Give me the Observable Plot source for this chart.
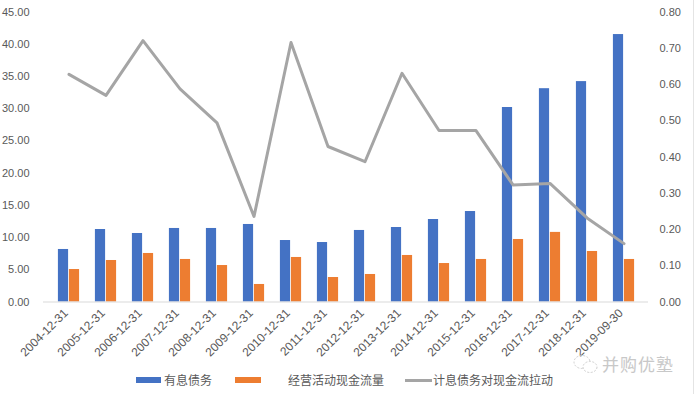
<!DOCTYPE html>
<html>
<head>
<meta charset="utf-8">
<script src="https://cdn.jsdelivr.net/npm/d3@7"></script>
<script src="https://cdn.jsdelivr.net/npm/@observablehq/plot@0.6"></script>
<style>
  html, body { margin: 0; padding: 0; background: #fff; }
  #wrap { position: relative; width: 694px; height: 394px; overflow: hidden;
          font-family: "Noto Sans CJK SC", "Liberation Sans", sans-serif; }
  .legend { position: absolute; top: 371px; left: 0; height: 18px; font-size: 12px; color: #595959; }
  .item { position: absolute; top: 0; white-space: nowrap; line-height: 18px; }
  .sw { position: absolute; }
  .wm { position: absolute; left: 602px; top: 353px; font-size: 17px; color: #C8C8C8; letter-spacing: 1px; line-height: 22px; }
  .icon { position: absolute; left: 572px; top: 352px; }
  .border { position: absolute; left: 693px; top: 0; width: 1px; height: 394px; background: #E4E4E4; }
</style>
</head>
<body>
<div id="wrap"></div>
<script>
const dates = ["2004-12-31","2005-12-31","2006-12-31","2007-12-31","2008-12-31","2009-12-31","2010-12-31","2011-12-31",
               "2012-12-31","2013-12-31","2014-12-31","2015-12-31","2016-12-31","2017-12-31","2018-12-31","2019-09-30"];
const debt = [8.15, 11.25, 10.63, 11.41, 11.41, 12.03, 9.54, 9.23, 11.10, 11.56, 12.80, 14.04, 30.18, 33.10, 34.20, 41.50];
const cashflow = [5.04, 6.44, 7.53, 6.60, 5.66, 2.72, 6.91, 3.80, 4.27, 7.22, 5.97, 6.60, 9.70, 10.80, 7.84, 6.60];
const ratio = [0.628, 0.570, 0.721, 0.588, 0.494, 0.236, 0.716, 0.429, 0.387, 0.631, 0.473, 0.473, 0.323, 0.327, 0.232, 0.161];
const leftTicks = [0, 5, 10, 15, 20, 25, 30, 35, 40, 45];
const rightTicks = [0, 0.1, 0.2, 0.3, 0.4, 0.5, 0.6, 0.7, 0.8];
const seriesNames = ["有息债务", "经营活动现金流量", "计息债务对现金流拉动"];
const colors = ["#4472C4", "#ED7D31", "#A5A5A5"];

const rows = dates.map((d, i) => ({date: d, debt: debt[i], cash: cashflow[i], ratio: ratio[i]}));
const k = 45 / 0.8; // right axis mapped onto left scale

const W = 694, H = 394, mL = 43, mR = 46;
const bw = (W - mL - mR) / dates.length;
const barW = 11;

const chart = Plot.plot({
  width: W, height: H,
  marginTop: 11.5, marginBottom: 92.5, marginLeft: mL, marginRight: mR,
  style: {fontFamily: "'Liberation Sans', 'Noto Sans CJK SC', sans-serif", fontSize: "11px", color: "#595959", background: "transparent"},
  x: {domain: dates, padding: 0},
  y: {domain: [0, 45]},
  marks: [
    Plot.axisY({ticks: leftTicks, tickFormat: d => d.toFixed(2), tickSize: 0, tickPadding: 14, label: null}),
    Plot.axisY({anchor: "right", ticks: rightTicks.map(v => v * k), tickFormat: d => (d / k).toFixed(2), tickSize: 0, tickPadding: 11, label: null}),
    Plot.axisX({tickRotate: -45, tickSize: 0, tickPadding: 9, dx: -3, label: null, fontSize: 12}),
    Plot.barY(rows, {x: "date", y: "debt", fill: colors[0], insetLeft: bw / 2 - barW, insetRight: bw / 2}),
    Plot.barY(rows, {x: "date", y: "cash", fill: colors[1], insetLeft: bw / 2, insetRight: bw / 2 - barW}),
    Plot.ruleY([0], {stroke: "#D9D9D9", strokeWidth: 1}),
    Plot.lineY(rows, {x: "date", y: d => d.ratio * k, stroke: colors[2], strokeWidth: 3, strokeLinejoin: "round"})
  ]
});

const wrap = document.getElementById("wrap");
chart.style.position = "absolute";
chart.style.left = "0";
chart.style.top = "0";
wrap.appendChild(chart);

const legend = document.createElement("div");
legend.className = "legend";
const items = [
  {sw: {left: 136, width: 25, top: 6, height: 6}, textLeft: 164},
  {sw: {left: 235, width: 26, top: 6, height: 6}, textLeft: 288},
  {sw: {left: 405, width: 27, top: 8, height: 3}, textLeft: 433}
];
items.forEach((it, i) => {
  const s = document.createElement("div");
  s.className = "sw";
  Object.assign(s.style, {left: it.sw.left + "px", width: it.sw.width + "px", top: it.sw.top + "px", height: it.sw.height + "px", background: colors[i]});
  legend.appendChild(s);
  const t = document.createElement("div");
  t.className = "item";
  t.style.left = it.textLeft + "px";
  t.textContent = seriesNames[i];
  legend.appendChild(t);
});
wrap.appendChild(legend);

const icon = document.createElementNS("http://www.w3.org/2000/svg", "svg");
icon.setAttribute("class", "icon");
icon.setAttribute("width", "28");
icon.setAttribute("height", "24");
icon.innerHTML = '<ellipse cx="10" cy="10" rx="8" ry="6.5" fill="none" stroke="#CFCFCF" stroke-dasharray="2 1.5"/>' +
                 '<ellipse cx="18" cy="15" rx="7" ry="5.5" fill="white" stroke="#CFCFCF" stroke-dasharray="2 1.5"/>';
wrap.appendChild(icon);

const wm = document.createElement("div");
wm.className = "wm";
wm.textContent = "并购优塾";
wrap.appendChild(wm);

const border = document.createElement("div");
border.className = "border";
wrap.appendChild(border);
</script>
</body>
</html>
